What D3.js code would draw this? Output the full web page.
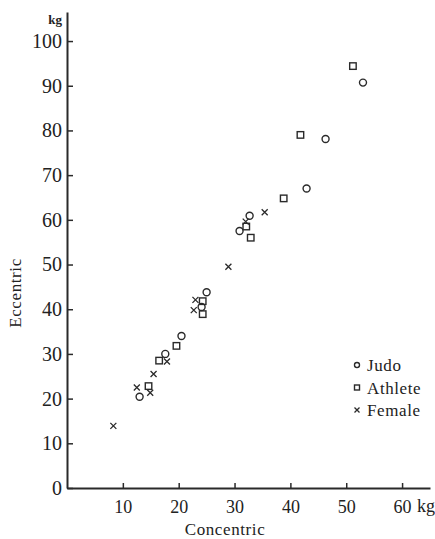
<!DOCTYPE html>
<html>
<head>
<meta charset="utf-8">
<script src="https://cdn.jsdelivr.net/npm/d3@7"></script>
<style>
  body { margin: 0; background: #fff; }
  text { font-family: "Liberation Serif", "DejaVu Serif", serif; fill: #222; }
</style>
</head>
<body>
<script>
var width = 435, height = 539;

// [concentric, eccentric] in kg
var judo = [[13.0, 20.4], [17.6, 30.0], [20.5, 34.0], [24.1, 40.5], [25.0, 43.8],
            [30.9, 57.5], [32.7, 60.9], [42.9, 67.0], [46.3, 78.1], [53.0, 90.7]];
var athlete = [[14.6, 22.8], [16.5, 28.5], [19.6, 31.8], [24.3, 41.8], [24.3, 38.9],
               [32.1, 58.5], [32.9, 56.0], [38.8, 64.8], [41.8, 79.0], [51.2, 94.4]];
var female = [[8.3, 13.9], [12.5, 22.5], [14.9, 21.3], [15.5, 25.5], [17.9, 28.3],
              [23.0, 42.1], [22.7, 39.8], [28.9, 49.5], [32.0, 59.6], [35.4, 61.7]];
var xTicks = [10, 20, 30, 40, 50, 60];
var yTicks = [0, 10, 20, 30, 40, 50, 60, 70, 80, 90, 100];
var legendNames = ["Judo", "Athlete", "Female"];

var x = d3.scaleLinear([0, 65], [67, 430]);
var y = d3.scaleLinear([0, 106.5], [488, 12]);

const svg = d3.select("body")
    .append("svg")
    .attr("width", width)
    .attr("height", height);

var ink = "#2a2a2a";

// axes
svg.append("g")
    .attr("transform", `translate(${x(0)},0)`)
    .call(d3.axisLeft(y).tickValues(yTicks).tickSize(-6).tickSizeOuter(0).tickPadding(5))
    .call(g => g.select(".domain").attr("stroke", ink).attr("stroke-width", 2))
    .call(g => g.selectAll(".tick line").attr("stroke", ink).attr("stroke-width", 1.5))
    .call(g => g.selectAll(".tick text")
        .attr("font-size", 20).attr("fill", ink));

svg.append("g")
    .attr("transform", `translate(0,${y(0)})`)
    .call(d3.axisBottom(x).tickValues(xTicks).tickSize(-5).tickSizeOuter(0).tickPadding(12))
    .call(g => g.select(".domain").attr("stroke", ink).attr("stroke-width", 2))
    .call(g => g.selectAll(".tick line").attr("stroke", ink).attr("stroke-width", 1.5))
    .call(g => g.selectAll(".tick text")
        .attr("font-size", 18).attr("fill", ink));

// unit labels
svg.append("text").attr("x", 62).attr("y", 24)
    .attr("text-anchor", "end").attr("font-size", 13).attr("font-weight", "bold")
    .text("kg");
svg.append("text").attr("x", 417).attr("y", 512)
    .attr("font-size", 18).text("kg");

// axis titles
svg.append("text").attr("x", 225).attr("y", 535)
    .attr("text-anchor", "middle").attr("font-size", 17).attr("letter-spacing", 0.6)
    .text("Concentric");
svg.append("text")
    .attr("transform", "translate(21,293) rotate(-90)")
    .attr("text-anchor", "middle").attr("font-size", 17).attr("letter-spacing", 0.6)
    .text("Eccentric");

// markers
function drawCircle(g, s) {
    g.append("circle").attr("r", s / 2).attr("fill", "none")
        .attr("stroke", ink).attr("stroke-width", 1.4);
}
function drawSquare(g, s) {
    g.append("rect").attr("x", -s / 2).attr("y", -s / 2).attr("width", s).attr("height", s)
        .attr("fill", "none").attr("stroke", ink).attr("stroke-width", 1.4);
}
function drawCross(g, s) {
    var h = s / 2;
    g.append("path").attr("d", `M${-h},${-h}L${h},${h}M${-h},${h}L${h},${-h}`)
        .attr("fill", "none").attr("stroke", ink).attr("stroke-width", 1.3);
}

var groups = [
    { data: judo, draw: drawCircle, size: 7 },
    { data: athlete, draw: drawSquare, size: 6.5 },
    { data: female, draw: drawCross, size: 6 }
];

groups.forEach(grp => {
    svg.append("g")
        .selectAll("g")
        .data(grp.data)
        .join("g")
        .attr("transform", d => `translate(${x(d[0])},${y(d[1])})`)
        .each(function () { grp.draw(d3.select(this), grp.size); });
});

// legend
var legend = svg.append("g").attr("transform", "translate(357,365)");
legendNames.forEach((name, i) => {
    var row = legend.append("g").attr("transform", `translate(0,${i * 22.5})`);
    groups[i].draw(row, 5);
    row.append("text").attr("x", 10).attr("y", 6)
        .attr("font-size", 17).attr("letter-spacing", 0.6).text(name);
});
</script>
</body>
</html>
